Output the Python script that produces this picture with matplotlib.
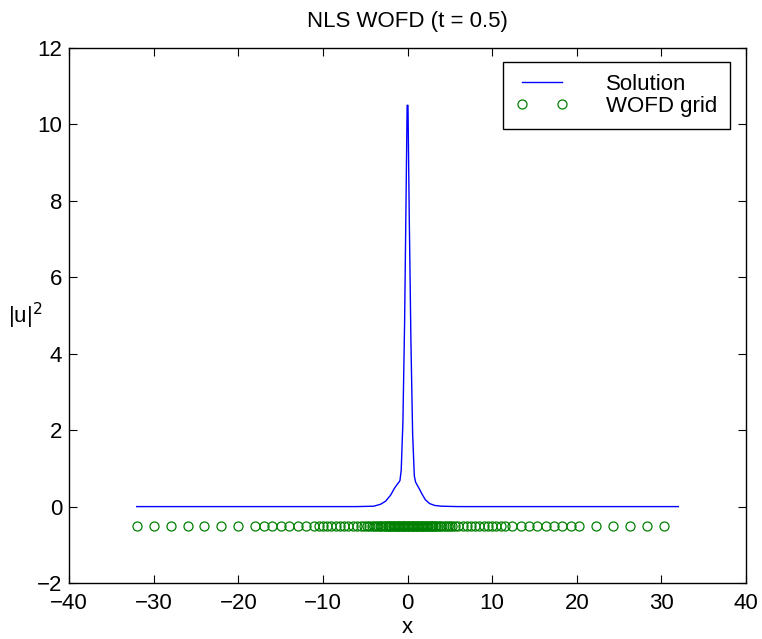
import numpy as np
import matplotlib
matplotlib.use("Agg")
import matplotlib.pyplot as plt

plt.rcParams['font.family'] = ['Liberation Sans', 'DejaVu Sans']

# solution |u|^2
sol_x = [-32.0, -6.0, -4.0, -3.2, -2.6, -2.0, -1.6, -1.3, -1.05, -0.9, -0.75,
         -0.55, -0.35, -0.18, -0.05, 0.05, 0.2, 0.4, 0.6, 0.8, 0.95, 1.1,
         1.4, 1.7, 2.1, 2.6, 3.2, 4.0, 6.0, 32.0]
sol_y = [0.0, 0.0, 0.01, 0.06, 0.14, 0.3, 0.46, 0.56, 0.63, 0.68, 0.95,
         2.2, 4.8, 8.0, 10.5, 10.5, 7.6, 4.3, 1.9, 0.8, 0.64, 0.58,
         0.46, 0.33, 0.18, 0.08, 0.03, 0.01, 0.0, 0.0]

# WOFD grid points (plotted at |u|^2 = -0.5)
grid_x = [-32.0, -30.0, -28.0, -26.0, -24.0, -22.0, -20.0,
          -18.0, -17.0, -16.0, -15.0, -14.0, -13.0, -12.0,
          -11.0, -10.5, -10.0, -9.5, -9.0, -8.5, -8.0, -7.5, -7.0, -6.5, -6.0, -5.5,
          -5.1, -4.8, -4.5, -4.25, -4.0, -3.75, -3.5, -3.3, -3.1, -2.9, -2.7, -2.5,
          -2.35, -2.2, -2.05, -1.9, -1.75, -1.6, -1.45, -1.3, -1.15, -1.0, -0.85,
          -0.7, -0.55, -0.4, -0.25, -0.1, 0.05, 0.2, 0.35, 0.5, 0.65, 0.8, 0.95,
          1.1, 1.25, 1.4, 1.55, 1.7, 1.85, 2.0, 2.15, 2.3, 2.45, 2.6, 2.75, 2.9, 3.05,
          3.2, 3.4, 3.6, 3.8, 4.0, 4.25, 4.5, 4.75, 5.0, 5.3, 5.6,
          6.0, 6.5, 7.0, 7.5, 8.0, 8.5, 9.0, 9.5, 10.0, 10.5, 11.0, 11.5,
          12.4, 13.4, 14.3, 15.3, 16.3, 17.3, 18.3, 19.3, 20.2,
          22.3, 24.3, 26.3, 28.3, 30.3]
grid_level = -0.5

xticks = [-40, -30, -20, -10, 0, 10, 20, 30, 40]
yticks = [-2, 0, 2, 4, 6, 8, 10, 12]

fig = plt.figure(figsize=(7.62, 6.39), dpi=100)
ax = fig.add_axes([0.0906, 0.0876, 0.8885, 0.8373])

ax.plot(sol_x, sol_y, color=(0, 0, 1), lw=1.0, label='Solution')
ax.plot(grid_x, [grid_level] * len(grid_x), linestyle='none', marker='o',
        markersize=6.5, markerfacecolor='none', markeredgecolor=(0, 0.5, 0),
        markeredgewidth=0.9, label='WOFD grid')

ax.set_xlim(-40, 40)
ax.set_ylim(-2, 12)
ax.set_xticks(xticks)
ax.set_yticks(yticks)
ax.set_xticklabels([str(v).replace('-', '\u2212') for v in xticks])
ax.set_yticklabels([str(v).replace('-', '\u2212') for v in yticks])
ax.tick_params(direction='in', top=True, right=True, length=6, width=0.8,
               labelsize=16)
ax.tick_params(axis='x', pad=7)
ax.tick_params(axis='y', pad=5)
for s in ax.spines.values():
    s.set_linewidth(1.0)

ax.set_title('NLS WOFD (t = 0.5)', fontsize=16, pad=15)
ax.set_xlabel('x', fontsize=16, labelpad=2)
ax.set_ylabel('|u|$^2$', fontsize=16, rotation=0, labelpad=8, va='center')

leg = ax.legend(loc='upper right', bbox_to_anchor=(0.976, 0.974), borderaxespad=0,
                numpoints=2, handlelength=2.4, fontsize=16, fancybox=False,
                framealpha=1, edgecolor='black', borderpad=0.55, labelspacing=0.05,
                handletextpad=1.7)
leg.get_frame().set_linewidth(1.0)

fig.savefig('out.png', dpi=100)
